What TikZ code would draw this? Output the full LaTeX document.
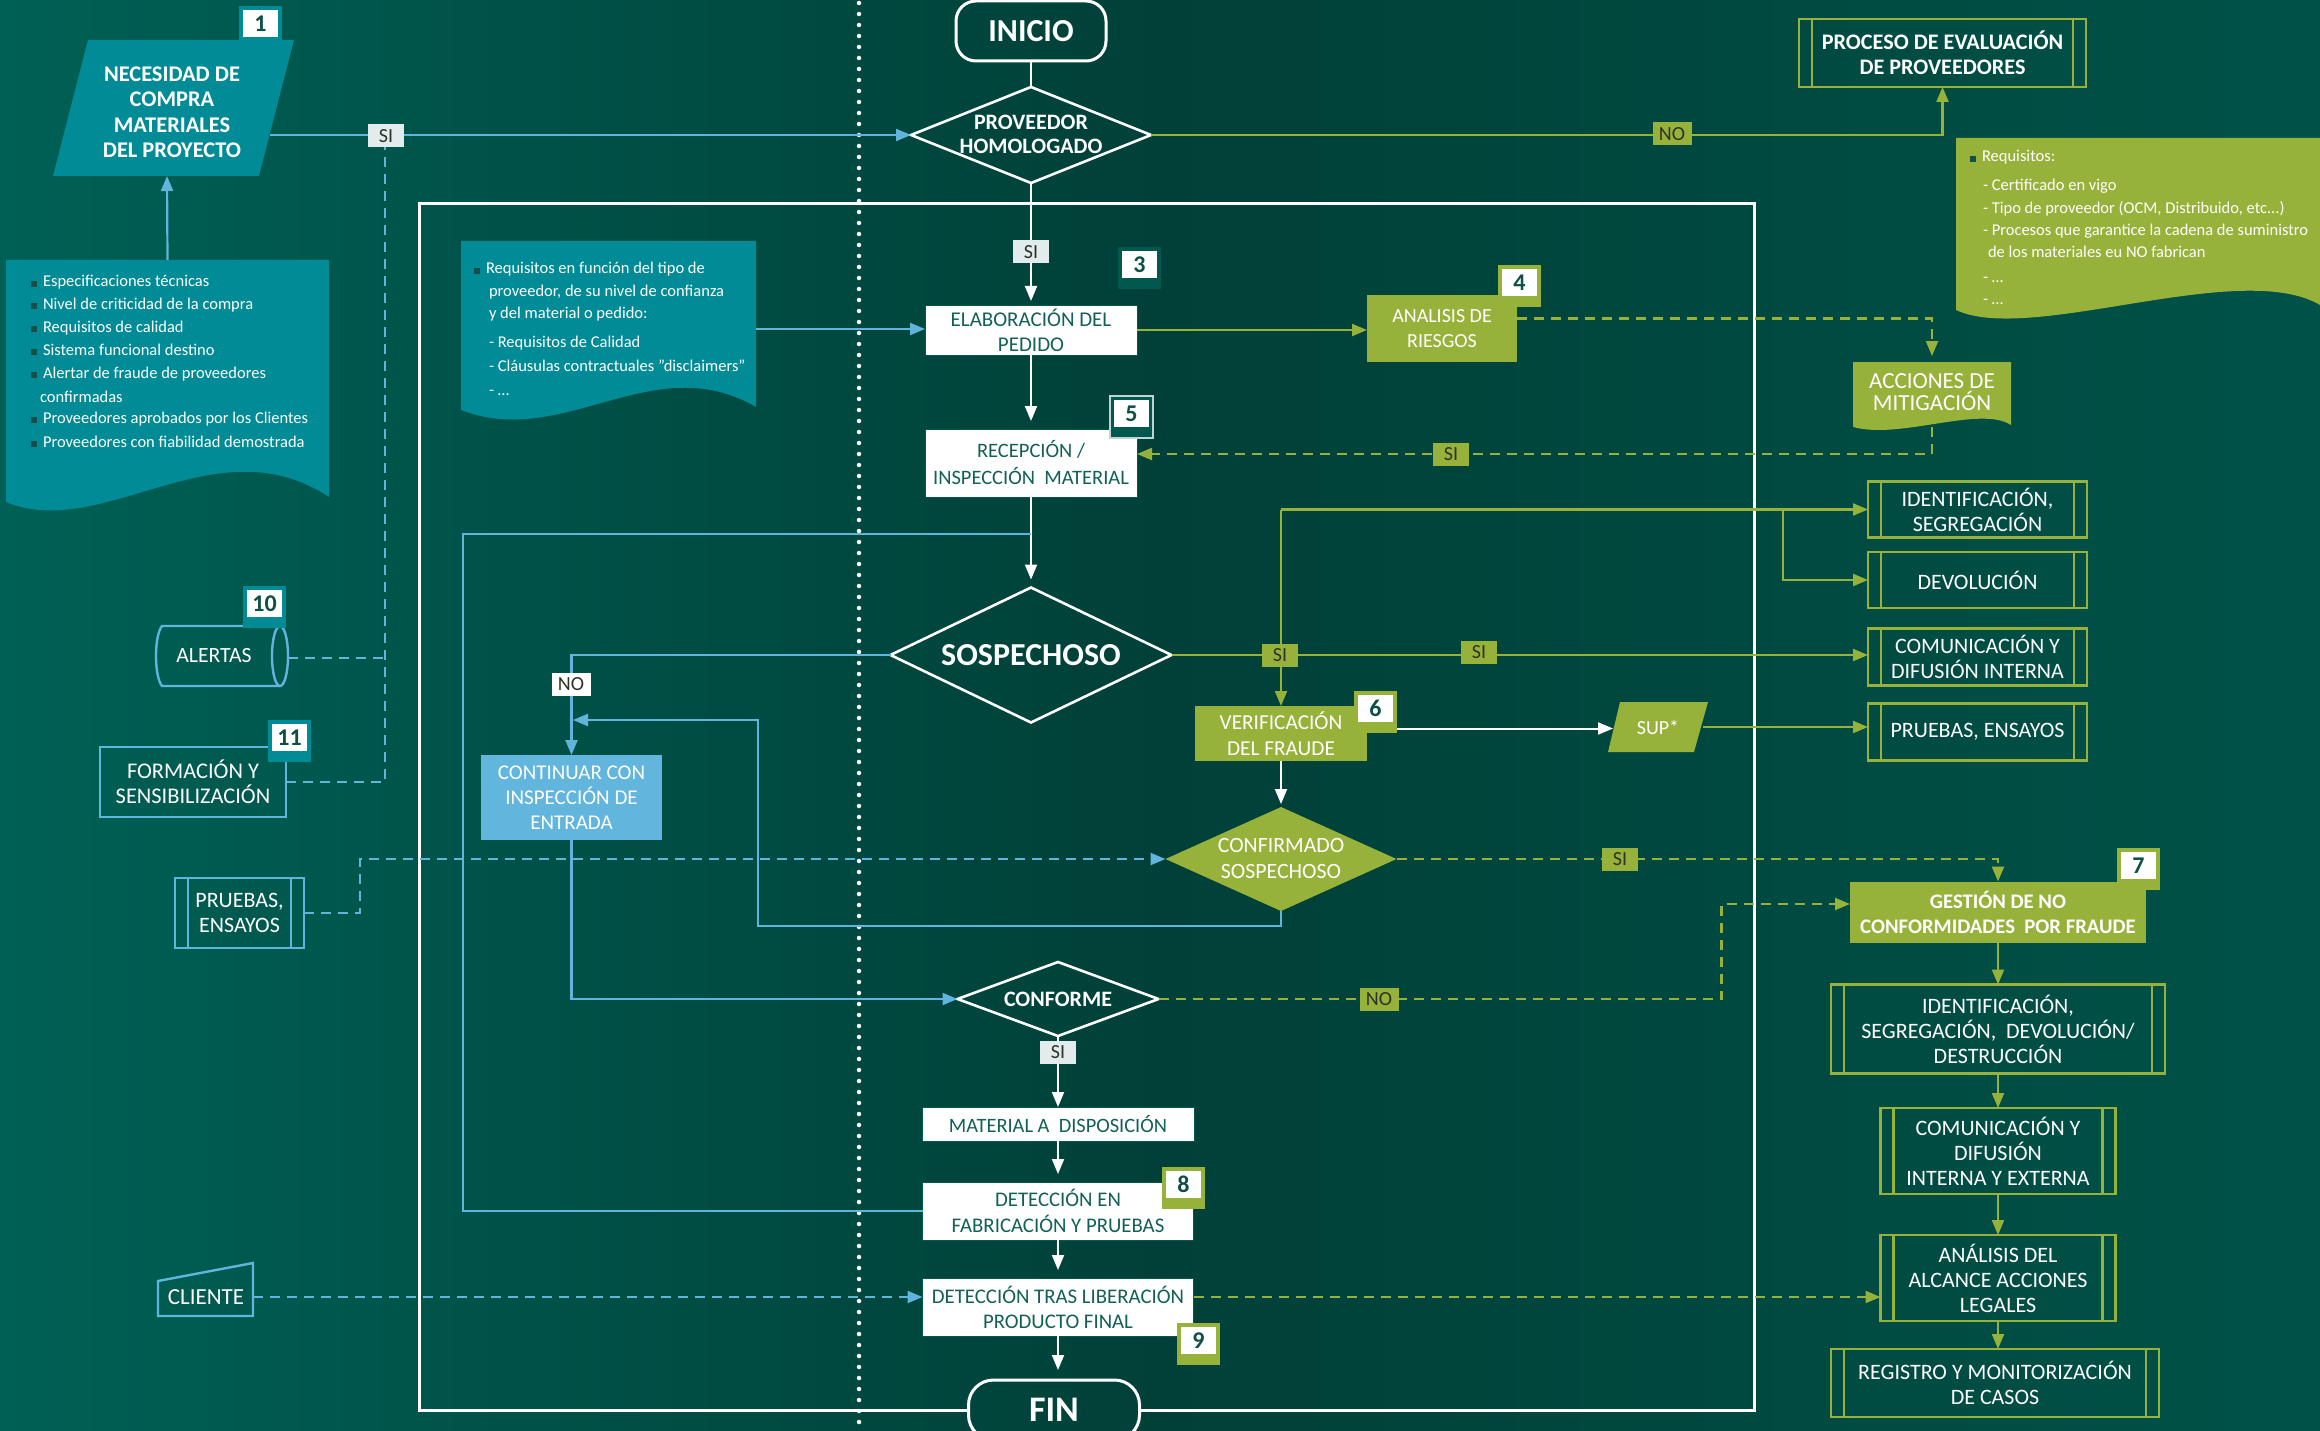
\documentclass[tikz,border=0pt]{standalone}
\usepackage{fontspec}
\setmainfont{Carlito}
\usetikzlibrary{arrows.meta,shapes.geometric,calc}
\definecolor{grn}{RGB}{151,178,59}
\definecolor{blu}{RGB}{97,180,220}
\definecolor{contb}{RGB}{98,182,222}
\definecolor{tealf}{RGB}{0,139,150}
\definecolor{dtext}{RGB}{18,96,86}
\definecolor{numc}{RGB}{14,80,72}
\definecolor{lblbg}{RGB}{226,236,236}
\definecolor{lbltx}{RGB}{45,50,40}
\definecolor{bulc}{RGB}{20,80,72}
\definecolor{bgL}{RGB}{0,96,85}
\definecolor{bgM}{RGB}{0,64,56}
\definecolor{bgR}{RGB}{0,82,72}
\definecolor{dkb}{RGB}{0,88,78}
\newcommand{\blt}{\textcolor{bulc}{\rule{6pt}{6pt}}\hspace{6pt}}
\newcommand{\badge}[5]{%
  \node[fill=#4, minimum width=43pt, minimum height=42pt, anchor=north west] (#1) at (#2,#3) {};
  \node[fill=white, minimum width=35pt, minimum height=27pt, anchor=north west, text=numc,
        font=\bfseries\fontsize{24}{24}\selectfont] (#1n) at (#2+4,#3+4) {#5};}
\tikzset{
  every node/.style={inner sep=0pt, outer sep=0pt, text=white, align=center, font=\fontsize{21}{25}\selectfont},
  wline/.style={draw=white, line width=2pt},
  bline/.style={draw=blu, line width=2.2pt},
  gline/.style={draw=grn, line width=2.2pt},
  dsh/.style={dash pattern=on 10pt off 7pt},
  arw/.style={-{Triangle[length=15pt,width=12pt]}},
  wbox/.style={fill=white, text=dtext, draw=dkb, line width=1pt},
  gbox/.style={fill=grn},
  procl/.style={path picture={\draw[#1, line width=2.5pt]
     ([xshift=13pt]path picture bounding box.north west) -- ([xshift=13pt]path picture bounding box.south west)
     ([xshift=-13pt]path picture bounding box.north east) -- ([xshift=-13pt]path picture bounding box.south east);}},
  gproc/.style={draw=grn, line width=2.6pt, procl=grn, font=\fontsize{22}{25}\selectfont},
  bproc/.style={draw=blu, line width=2.4pt, procl=blu, font=\fontsize{22}{25}\selectfont},
  dia/.style={diamond, draw=white, line width=2.6pt},
  lbl/.style={minimum width=36pt, minimum height=23pt, font=\fontsize{20}{20}\selectfont, text=lbltx},
  lblw/.style={lbl, fill=lblbg},
  lblg/.style={lbl, fill=grn},
  ntxt/.style={anchor=base west, align=left, font=\fontsize{16.5}{18}\selectfont},
}
\begin{document}
\begin{tikzpicture}[x=1pt,y=-1pt]
\useasboundingbox (0,0) rectangle (2320,1431);
\shade[left color=bgL, right color=bgR, middle color=bgM] (0,0) rectangle (2320,1431);

% dotted divider
\draw[white, line width=4.5pt, line cap=round, dash pattern=on 0pt off 11pt] (859,3) -- (859,1431);

% ---------- central column ----------
\node[draw=white, line width=3pt, rounded corners=20pt, minimum width=150pt, minimum height=60pt,
      font=\bfseries\fontsize{32}{32}\selectfont] (inicio) at (1031,31) {INICIO};
\node[dia, minimum width=240pt, minimum height=96pt] (prov) at (1031,135) {};
\node[font=\bfseries\fontsize{22}{24}\selectfont] (provt) at (1031,134) {PROVEEDOR\\HOMOLOGADO};
\node[wbox, minimum width=212pt, minimum height=50pt] (elab) at (1031,330) {ELABORACIÓN DEL\\PEDIDO};
\node[wbox, minimum width=212pt, minimum height=68pt, font=\fontsize{20.5}{27}\selectfont] (recep) at (1031,463) {RECEPCIÓN /\\INSPECCIÓN\ \ MATERIAL};
\node[dia, minimum width=281pt, minimum height=135pt] (sosp) at (1031,655) {};
\node[font=\bfseries\fontsize{32}{32}\selectfont] (sospt) at (1031,655) {SOSPECHOSO};
\node[fill=contb, minimum width=181pt, minimum height=85pt] (cont) at (571.5,797.5) {CONTINUAR CON\\INSPECCIÓN DE\\ENTRADA};
\node[gbox, minimum width=172pt, minimum height=55pt, font=\fontsize{21.3}{26}\selectfont] (verif) at (1281,733.5) {VERIFICACIÓN\\DEL FRAUDE};
\fill[grn] (1620,702) -- (1708,702) -- (1694,752) -- (1608,752) -- cycle;
\node[minimum width=90pt, minimum height=50pt, font=\fontsize{20}{20}\selectfont] (sup) at (1658,727) {SUP*};
\node[diamond, fill=grn, minimum width=231pt, minimum height=104pt] (conf) at (1281,859) {};
\node[font=\fontsize{21.8}{26}\selectfont] (conft) at (1281,858) {CONFIRMADO\\SOSPECHOSO};
\node[dia, minimum width=201pt, minimum height=74pt] (conforme) at (1058,999) {};
\node[font=\bfseries\fontsize{22}{22}\selectfont] (conformet) at (1058,999) {CONFORME};
\node[wbox, minimum width=272pt, minimum height=34pt, font=\fontsize{20.4}{25}\selectfont] (mat) at (1058,1124) {MATERIAL A\ \ DISPOSICIÓN};
\node[wbox, minimum width=271pt, minimum height=58pt, font=\fontsize{20.8}{26}\selectfont] (det1) at (1058,1211) {DETECCIÓN EN\\FABRICACIÓN Y PRUEBAS};
\node[wbox, minimum width=271pt, minimum height=58pt, font=\fontsize{20.8}{25}\selectfont] (det2) at (1058,1307) {DETECCIÓN TRAS LIBERACIÓN\\PRODUCTO FINAL};
\node[draw=white, line width=3pt, rounded corners=25pt, minimum width=171pt, minimum height=60pt,
      font=\bfseries\fontsize{36}{36}\selectfont] (fin) at (1054,1410) {FIN};

% frame
\draw[white, line width=3pt] (fin.west) -- (419,1410) -- (419,204) -- (1754,204) -- (1754,1410) -- (fin.east);

% ---------- right side ----------
\node[gbox, minimum width=150pt, minimum height=67pt, font=\fontsize{20}{25}\selectfont] (anal) at (1442,328.5) {ANALISIS DE\\RIESGOS};
\fill[grn] (1853,362) -- (2011,362) -- (2011,425) .. controls (1980,405) and (1900,440) .. (1853,427) -- cycle;
\node[minimum width=158pt, minimum height=65pt] (acc) at (1932,394.5) {};
\node[font=\fontsize{23}{22}\selectfont] (acct) at (1932,392) {ACCIONES DE\\MITIGACIÓN};
\node[gproc, minimum width=287pt, minimum height=68pt, font=\bfseries\fontsize{22.2}{25}\selectfont] (proc) at (1942.5,53) {PROCESO DE EVALUACIÓN\\DE PROVEEDORES};
\fill[grn] (1956,138) -- (2320,138) -- (2320,305) .. controls (2240,258) and (2030,345) .. (1956,310) -- cycle;
\node[ntxt] (n3a) at (1970,162) {\blt Requisitos:};
\node[ntxt] (n3b) at (1983,191) {- Certificado en vigo};
\node[ntxt] (n3c) at (1983,214) {- Tipo de proveedor (OCM, Distribuido, etc...)};
\node[ntxt] (n3d) at (1983,236) {- Procesos que garantice la cadena de suministro};
\node[ntxt] (n3e) at (1988,258) {de los materiales eu NO fabrican};
\node[ntxt] (n3f) at (1983,283) {- …};
\node[ntxt] (n3g) at (1983,305) {- …};

\node[gproc, minimum width=219pt, minimum height=56pt] (r1) at (1977.5,509.5) {IDENTIFICACIÓN,\\SEGREGACIÓN};
\node[gproc, minimum width=219pt, minimum height=56pt] (r2) at (1977.5,580) {DEVOLUCIÓN};
\node[gproc, minimum width=219pt, minimum height=57pt] (r3) at (1977.5,657) {COMUNICACIÓN Y\\DIFUSIÓN INTERNA};
\node[gproc, minimum width=219pt, minimum height=57pt] (r4) at (1977.5,732) {PRUEBAS, ENSAYOS};

\node[gbox, minimum width=296pt, minimum height=61pt, font=\bfseries\fontsize{20.7}{25}\selectfont] (gest) at (1998,912) {GESTIÓN DE NO\\CONFORMIDADES\ \ POR FRAUDE};
\node[gproc, minimum width=334pt, minimum height=89pt] (b1) at (1998,1029) {IDENTIFICACIÓN,\\SEGREGACIÓN,\ \ DEVOLUCIÓN/\\DESTRUCCIÓN};
\node[gproc, minimum width=235pt, minimum height=86pt] (b2) at (1998,1151) {COMUNICACIÓN Y\\DIFUSIÓN\\INTERNA Y EXTERNA};
\node[gproc, minimum width=235pt, minimum height=86pt] (b3) at (1998,1278) {ANÁLISIS DEL\\ALCANCE ACCIONES\\LEGALES};
\node[gproc, minimum width=328pt, minimum height=68pt] (b4) at (1995,1383) {REGISTRO Y MONITORIZACIÓN\\DE CASOS};

% ---------- left side ----------
\fill[tealf] (88,40) -- (294,40) -- (259,176) -- (53,176) -- cycle;
\node[font=\bfseries\fontsize{22.4}{25.5}\selectfont] (nec) at (172,112) {NECESIDAD DE\\COMPRA\\MATERIALES\\DEL PROYECTO};
\coordinate (necE) at (270,135);
\coordinate (necB) at (167,176);

\fill[tealf] (6,260) -- (329,260) -- (329,497) .. controls (216,422) and (103,542) .. (6,502) -- cycle;
\node[minimum width=323pt, minimum height=240pt] (note1) at (167.5,380) {};
\node[ntxt] (n1a) at (31,287) {\blt Especificaciones técnicas};
\node[ntxt] (n1b) at (31,309) {\blt Nivel de criticidad de la compra};
\node[ntxt] (n1c) at (31,332) {\blt Requisitos de calidad};
\node[ntxt] (n1d) at (31,355) {\blt Sistema funcional destino};
\node[ntxt] (n1e) at (31,378) {\blt Alertar de fraude de proveedores};
\node[ntxt] (n1f) at (40,402) {confirmadas};
\node[ntxt] (n1g) at (31,423) {\blt Proveedores aprobados por los Clientes};
\node[ntxt] (n1h) at (31,447) {\blt Proveedores con fiabilidad demostrada};

\fill[tealf] (461,241) -- (756,241) -- (756,407) .. controls (653,347) and (564,450) .. (461,410) -- cycle;
\node[minimum width=295pt, minimum height=176pt] (note2) at (608.5,329) {};
\node[ntxt] (n2a) at (474,274) {\blt Requisitos en función del tipo de};
\node[ntxt] (n2b) at (489,296) {proveedor, de su nivel de confianza};
\node[ntxt] (n2c) at (489,318) {y del material o pedido:};
\node[ntxt] (n2d) at (489,347) {- Requisitos de Calidad};
\node[ntxt] (n2e) at (489,371) {- Cláusulas contractuales ”disclaimers”};
\node[ntxt] (n2f) at (489,395) {- …};

% ALERTAS (horizontal cylinder)
\draw[blu, line width=2.4pt] (280,626) -- (162,626) .. controls (154,636) and (154,676) .. (162,686) -- (280,686);
\draw[blu, line width=2.4pt] (280,656) ellipse [x radius=8, y radius=30];
\node[minimum width=126pt, minimum height=60pt, font=\fontsize{21.7}{25}\selectfont] (alert) at (214,656) {ALERTAS};
\coordinate (alertE) at (288,658);
\node[draw=blu, line width=2.4pt, minimum width=186pt, minimum height=70pt, font=\fontsize{22.4}{25}\selectfont] (form) at (193,782) {FORMACIÓN Y\\SENSIBILIZACIÓN};
\node[bproc, minimum width=129pt, minimum height=70pt] (prl) at (239.5,913) {PRUEBAS,\\ENSAYOS};
\draw[blu, line width=2.4pt] (158,1281) -- (253,1263) -- (253,1316) -- (158,1316) -- cycle;
\node[font=\fontsize{23}{23}\selectfont] (cli) at (206,1297) {CLIENTE};
\coordinate (cliE) at (253,1297);
\coordinate (siD) at (385,147);

% ---------- badges ----------
\badge{bd1}{239}{6}{tealf}{1}
\badge{bd3}{1118}{247}{dkb}{3}
\badge{bd4}{1498}{265}{grn}{4}
\badge{bd5}{1110}{396}{dkb}{5}
\draw[white!75!dkb, line width=1.2pt] (bd5.north west) rectangle (bd5.south east);
\badge{b6}{1354}{691}{grn}{6}
\badge{bd7}{2117}{848}{grn}{7}
\badge{bd8}{1162}{1167}{grn}{8}
\badge{bd9}{1177}{1323}{grn}{9}
\badge{bd10}{243}{586}{tealf}{10}
\badge{bd11}{268}{720}{tealf}{11}

% ---------- connectors ----------
\draw[wline] (inicio.south) -- (prov.north);
\draw[bline, arw] (necE) -- (prov.west);
\draw[bline, dsh] (form.east) -| (siD);
\draw[bline, dsh] (alertE) -- (alertE -| siD);
\draw[bline, dsh, arw] (prl.east) -- ++(56,0) |- (conf.west);
\draw[bline, dsh, arw] (cliE) -- (cliE -| det2.west);
\draw[bline, arw] (note1.north) -- (necB);
\draw[bline, arw] (note2.east) -- (note2.east -| elab.west);
\draw[wline, arw, shorten >=4pt] (prov.south) -- (elab.north);
\draw[gline, arw] (prov.east) -| (proc.south);
\draw[gline, arw] (elab.east) -- (elab.east -| anal.west);
\draw[gline, dsh, arw, shorten >=6pt] ([yshift=10pt]anal.east) -| (acc.north);
\draw[gline, dsh, arw] (acc.south) |- ([yshift=9pt]recep.east);
\draw[wline, arw, shorten >=8pt] (elab.south) -- (recep.north);
\draw[wline, arw, shorten >=8pt] (recep.south) -- (sosp.north);
\coordinate (recJ) at (1031,534);
\draw[bline] (recJ) -- ++(-568,0) |- (det1.west);
\draw[bline, arw] (sosp.west) -| (cont.north);
\coordinate (contIn) at (573,720);
\draw[bline, arw] (conf.south) -- ++(0,15) -- ++(-523,0) -- ++(0,-206) -- (contIn);
\draw[bline, arw] (cont.south) |- (conforme.west);
\draw[gline, arw] (sosp.east) -- (sosp.east -| r3.west);
\coordinate (gJ) at (1281,509.5);
\coordinate (gJ2) at (1783,509.5);
\draw[gline, arw] (gJ) -- (verif.north);
\draw[gline, arw] (gJ) -- (r1.west);
\draw[gline, arw] (gJ2) |- (r2.west);
\draw[wline, arw] ($(verif.east -| b6.east)+(0,-5)$) -- ($(verif.east -| sup.west)+(0,-5)$);
\draw[gline, arw] (sup.east) -- (sup.east -| r4.west);
\draw[wline, arw, shorten >=3pt] (verif.south) -- (conf.north);
\draw[gline, dsh, arw] (conf.east) -| (gest.north);
\draw[gline, dsh, arw] (conforme.east) -- ++(563,0) |- ([yshift=8pt]gest.west);
\draw[wline, arw] (conforme.south) -- (mat.north);
\draw[wline, arw, shorten >=8pt] (mat.south) -- (det1.north);
\draw[wline, arw, shorten >=8pt] (det1.south) -- (det2.north);
\draw[wline, arw, shorten >=10pt] (det2.south) -- (det2.south |- fin.north);
\draw[gline, dsh, arw] ([yshift=10pt]det2.east) -- ([yshift=10pt]det2.east -| b3.west);
\draw[gline, arw] (gest.south) -- (gest.south |- b1.north);
\draw[gline, arw] (b1.south) -- (b1.south |- b2.north);
\draw[gline, arw] (b2.south) -- (b2.south |- b3.north);
\draw[gline, arw] (b3.south) -- (b3.south |- b4.north);

% ---------- labels ----------
\node[lblw] (si1) at (386,136) {SI};
\node[lblw] (si2) at (1031,252) {SI};
\node[lblg, minimum width=39pt] (no1) at (1672,134) {NO};
\node[lblg] (si3) at (1451,454) {SI};
\node[lblg] (si4) at (1280,655) {SI};
\node[lblg] (si5) at (1479,652) {SI};
\node[lblw, fill=white, minimum width=39pt] (no2) at (571,684) {NO};
\node[lblg] (si6) at (1620,859) {SI};
\node[lblg, minimum width=39pt] (no3) at (1379,999) {NO};
\node[lblw] (si7) at (1058,1052) {SI};
\end{tikzpicture}
\end{document}
